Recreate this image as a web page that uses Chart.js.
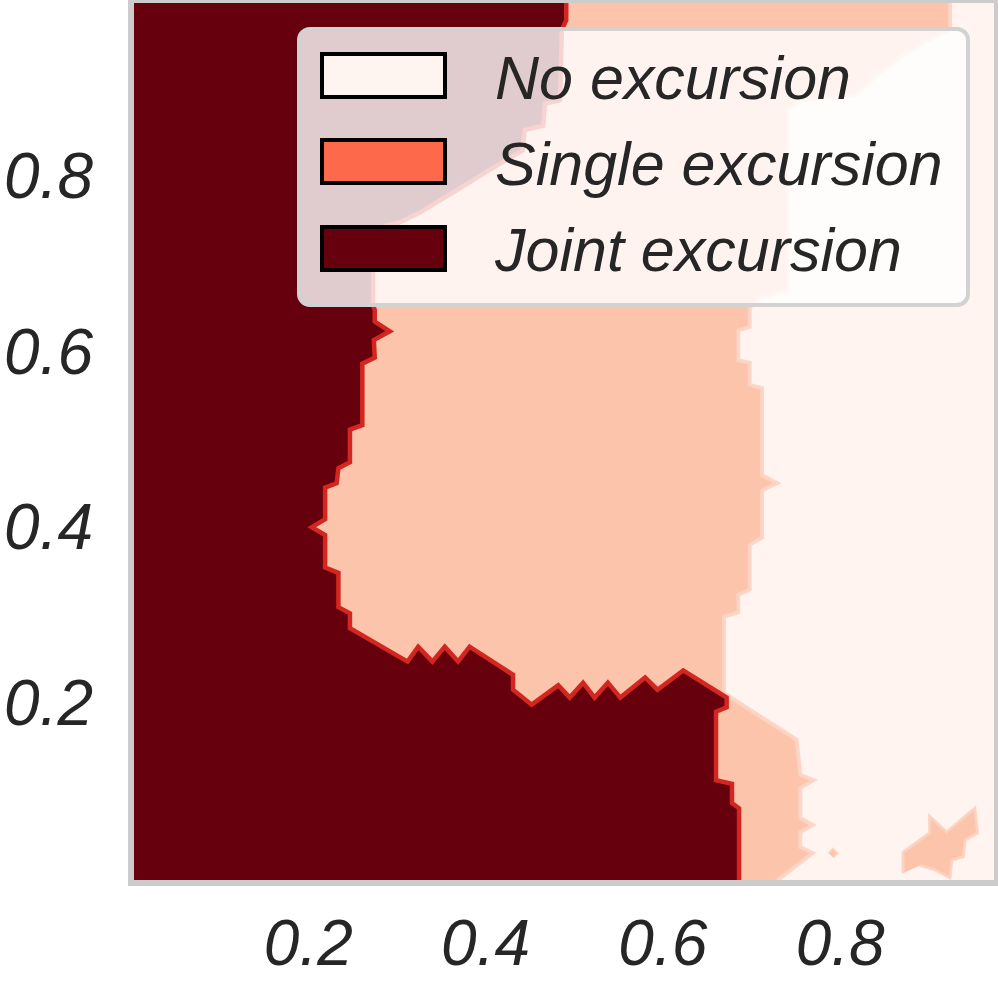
<!DOCTYPE html>
<html>
<head>
<meta charset="utf-8">
<script src="https://cdn.jsdelivr.net/npm/chart.js@4.4.1/dist/chart.umd.min.js"></script>
<style>
  html, body { margin: 0; padding: 0; background: #ffffff; }
  #wrap { position: relative; width: 998px; height: 984px; overflow: hidden; }
  #c { display: block; }
  #legend {
    position: absolute; left: 297px; top: 27px; width: 673px; height: 280px;
    box-sizing: border-box; border: 4px solid #d2d2d2; border-radius: 13px;
    background: rgba(255,255,255,0.8);
    font-family: 'Liberation Sans', Arial, sans-serif; font-style: italic;
  }
  .patch { position: absolute; left: 19px; width: 127px; height: 47px; box-sizing: border-box; border: 4px solid #000; }
  .ltext { position: absolute; left: 194px; font-size: 61px; line-height: 61px; color: #262626; white-space: nowrap; }
</style>
</head>
<body>
<div id="wrap">
  <canvas id="c" width="998" height="984"></canvas>
  <div id="legend"></div>
</div>
<script>
// ---- categories / legend ----
const CATEGORIES = ['No excursion', 'Single excursion', 'Joint excursion'];

// ---- tick values & labels ----
const X_TICKS = [0.2, 0.4, 0.6, 0.8];
const X_TICK_LABELS = ['0.2', '0.4', '0.6', '0.8'];
const Y_TICKS = [0.2, 0.4, 0.6, 0.8];
const Y_TICK_LABELS = ['0.2', '0.4', '0.6', '0.8'];

// ---- region outlines (data coordinates) ----
// No excursion: whole domain (background class)
const noneX = [-0.08, 1.05, 1.05, -0.08];
const noneY = [-0.08, -0.08, 1.08, 1.08];

// Single excursion: main region (left part covered later by joint region)
const singleX = [-0.08, 0.924, 0.924, 0.901, 0.873, 0.845, 0.819, 0.755, 0.740, 0.740, 0.710, 0.698,
  0.698, 0.685, 0.685, 0.698, 0.698, 0.712, 0.712, 0.729, 0.712, 0.712, 0.698, 0.698, 0.685, 0.685,
  0.669, 0.669, 0.751, 0.755, 0.770, 0.755, 0.755, 0.769, 0.755, 0.755, 0.769, 0.729, 0.729, -0.08];
const singleY = [1.08, 1.08, 0.971, 0.960, 0.943, 0.923, 0.897, 0.891, 0.880, 0.675, 0.666, 0.655,
  0.633, 0.629, 0.595, 0.592, 0.567, 0.563, 0.464, 0.455, 0.447, 0.393, 0.385, 0.334, 0.328, 0.308,
  0.303, 0.216, 0.163, 0.123, 0.117, 0.108, 0.074, 0.066, 0.058, 0.041, 0.034, 0.003, -0.08, -0.08];

// Single excursion: small patch near the lower-right corner
const singlePatchX = [0.871, 0.871, 0.901, 0.901, 0.920, 0.952, 0.955, 0.941, 0.939, 0.926, 0.924, 0.907, 0.890];
const singlePatchY = [0.011, 0.035, 0.057, 0.076, 0.058, 0.085, 0.057, 0.049, 0.030, 0.026, 0.006, 0.015, 0.020];

// Single excursion: isolated cell
const singleDotX = [0.787, 0.792, 0.797, 0.792];
const singleDotY = [0.034, 0.039, 0.034, 0.029];

// Joint excursion region
const jointX = [0.491, 0.491, 0.486, 0.484, 0.467, 0.465, 0.444, 0.442, 0.405, 0.365, 0.326, 0.303,
  0.287, 0.273, 0.273, 0.275, 0.275, 0.292, 0.274, 0.275, 0.261, 0.261, 0.247, 0.247, 0.234, 0.232,
  0.219, 0.219, 0.204, 0.219, 0.219, 0.234, 0.234, 0.247, 0.247, 0.312, 0.324, 0.340, 0.354, 0.369,
  0.382, 0.431, 0.431, 0.452, 0.482, 0.495, 0.510, 0.523, 0.538, 0.552, 0.580, 0.594, 0.623, 0.672,
  0.672, 0.660, 0.660, 0.678, 0.678, 0.686, 0.686, -0.08, -0.08];
const jointY = [1.08, 0.982, 0.971, 0.891, 0.887, 0.862, 0.857, 0.834, 0.812, 0.787, 0.763, 0.752,
  0.748, 0.738, 0.658, 0.652, 0.639, 0.628, 0.618, 0.598, 0.591, 0.521, 0.516, 0.479, 0.472, 0.455,
  0.450, 0.414, 0.405, 0.396, 0.359, 0.353, 0.314, 0.307, 0.290, 0.252, 0.269, 0.252, 0.269, 0.252,
  0.269, 0.237, 0.220, 0.203, 0.225, 0.211, 0.228, 0.211, 0.228, 0.211, 0.234, 0.220, 0.242, 0.211,
  0.200, 0.195, 0.117, 0.113, 0.091, 0.085, -0.08, -0.08, 1.08];

// ---- styles ----
const COLORS = { none: '#fff4ef', single: '#fbc4ab', joint: '#67000d' };
const LEGEND_COLORS = ['#fff5f0', '#fd694b', '#67000d'];
const TEXT = '#262626';
const FONT = 'Liberation Sans';

const pts = (xs, ys) => xs.map((x, i) => ({ x: x, y: ys[i] }));

function region(label, xs, ys, fillColor, edgeColor, edgeWidth, order) {
  return {
    label: label, data: pts(xs, ys), showLine: true, fill: 'shape',
    backgroundColor: fillColor, borderColor: edgeColor, borderWidth: edgeWidth,
    pointRadius: 0, pointHoverRadius: 0, tension: 0, order: order, clip: 0
  };
}

const spines = {
  id: 'spines',
  afterDatasetsDraw(chart) {
    const a = chart.chartArea, ctx = chart.ctx;
    ctx.save();
    ctx.strokeStyle = '#cccccc';
    ctx.lineWidth = 6;
    ctx.strokeRect(a.left, a.top, a.right - a.left, a.bottom - a.top);
    ctx.restore();
  }
};

new Chart(document.getElementById('c'), {
  type: 'scatter',
  data: {
    datasets: [
      region(CATEGORIES[2], jointX, jointY, COLORS.joint, 'rgb(212,38,32)', 4.5, 0),
      region(CATEGORIES[1], singlePatchX, singlePatchY, COLORS.single, 'rgba(252,210,192,0.9)', 3, 1),
      region(CATEGORIES[1], singleDotX, singleDotY, COLORS.single, 'rgba(252,210,192,0.9)', 2, 1),
      region(CATEGORIES[1], singleX, singleY, COLORS.single, 'rgba(252,212,195,0.9)', 4, 2),
      region(CATEGORIES[0], noneX, noneY, COLORS.none, COLORS.none, 0, 3)
    ]
  },
  options: {
    responsive: false, animation: false, devicePixelRatio: 1,
    layout: { padding: { left: 0, right: 1, top: 0, bottom: 0 } },
    plugins: { legend: { display: false }, tooltip: { enabled: false } },
    events: [],
    scales: {
      x: {
        type: 'linear', min: 0, max: 0.977,
        grid: { display: false, drawTicks: false }, border: { display: false },
        afterBuildTicks: s => { s.ticks = X_TICKS.map(v => ({ value: v })); },
        afterFit: s => { s.height = 101; s.paddingLeft = 0; s.paddingRight = 0; },
        ticks: {
          autoSkip: false, maxRotation: 0, padding: 26, color: TEXT,
          font: { family: FONT, style: 'italic', size: 64 },
          callback: (v) => X_TICK_LABELS[X_TICKS.indexOf(v)] ?? ''
        }
      },
      y: {
        type: 'linear', min: 0, max: 1.005,
        grid: { display: false, drawTicks: false }, border: { display: false },
        afterBuildTicks: s => { s.ticks = Y_TICKS.map(v => ({ value: v })); },
        afterFit: s => { s.width = 131; s.paddingTop = 0; s.paddingBottom = 0; },
        ticks: {
          autoSkip: false, padding: 38, color: TEXT,
          font: { family: FONT, style: 'italic', size: 64 },
          callback: (v) => Y_TICK_LABELS[Y_TICKS.indexOf(v)] ?? ''
        }
      }
    }
  },
  plugins: [spines]
});

// ---- legend (HTML overlay) ----
const legend = document.getElementById('legend');
CATEGORIES.forEach((name, i) => {
  const p = document.createElement('div');
  p.className = 'patch';
  p.style.top = (21 + 86.3 * i) + 'px';
  p.style.background = LEGEND_COLORS[i];
  legend.appendChild(p);
  const t = document.createElement('div');
  t.className = 'ltext';
  t.style.top = (16.7 + 86.3 * i) + 'px';
  t.textContent = name;
  legend.appendChild(t);
});
</script>
</body>
</html>
